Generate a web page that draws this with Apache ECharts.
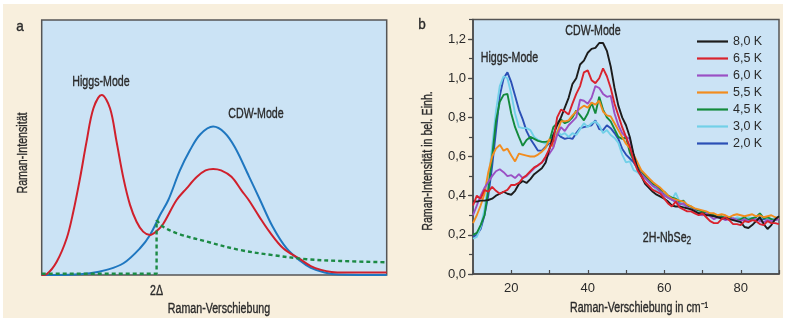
<!DOCTYPE html>
<html><head><meta charset="utf-8">
<script src="https://cdn.jsdelivr.net/npm/echarts@6/dist/echarts.min.js"></script>
<style>html,body{margin:0;padding:0;background:#fff}#c{width:785px;height:321px}</style>
</head><body><div id="c"></div>
<script>
const FONT = "'Liberation Sans','Arimo',sans-serif";

// ---- Panel a (schematic curves, x 0..100, y 0..1) ----
const aRed = [[0,0],[1.5,0.004],[4.35,0.052],[7.25,0.144],[9.16,0.248],[11.1,0.379],[13.0,0.523],[15.0,0.654],[17.4,0.706],[19.8,0.654],[21.7,0.523],[23.7,0.379],[25.6,0.275],[27.5,0.209],[29.4,0.170],[31.4,0.157],[33.3,0.172],[35.2,0.20],[39.1,0.294],[42,0.34],[45,0.385],[47.5,0.41],[49.7,0.416],[52,0.41],[55,0.385],[58,0.33],[60,0.294],[63,0.23],[66,0.17],[70,0.105],[74.9,0.062],[78,0.035],[81,0.02],[84,0.012],[88,0.01],[100,0.01]];
const aBlue = [[0,0],[8,0.001],[14,0.007],[18.8,0.02],[23.7,0.046],[28.5,0.105],[31.4,0.157],[34.3,0.235],[36.7,0.294],[40,0.408],[43,0.49],[46,0.552],[49.7,0.582],[53,0.558],[56,0.501],[60,0.389],[63.3,0.294],[67,0.188],[71,0.104],[75,0.055],[78,0.028],[82,0.01],[86,0.002],[100,0]];
const aGreenStep = [[0,0.005],[33.3,0.005],[33.3,0.216]];
const aGreenDecay = [[33.3,0.216],[35.2,0.189],[40,0.16],[47.8,0.131],[57.5,0.098],[67,0.078],[76.8,0.062],[86.5,0.055],[100,0.05]];
const gapX = 33.3;

// ---- Panel b (Raman spectra) ----
const shifts = [10,11,12,13,14,15,16,17,18,19,20,21,22,23,24,25,26,27,28,29,30,31,32,33,34,35,36,37,38,39,40,41,42,43,44,45,46,47,48,49,50,51,52,53,54,55,56,57,58,59,60,61,62,63,64,65,66,67,68,69,70,71,72,73,74,75,76,77,78,79,80,81,82,83,84,85,86,87,88,89,90];
const s80 = [0.37,0.37,0.375,0.375,0.378,0.385,0.40,0.41,0.42,0.41,0.405,0.425,0.46,0.475,0.465,0.485,0.51,0.525,0.54,0.57,0.64,0.71,
 0.76,0.80,0.85,0.90,0.97,1.0,1.07,1.09,1.13,1.15,1.155,1.18,1.18,1.14,1.06,0.95,0.86,0.80,0.76,0.70,0.61,0.54,0.50,0.46,0.44,0.42,0.405,
 0.395,0.385,0.37,0.35,0.345,0.345,0.34,0.335,0.33,0.32,0.31,0.31,0.30,0.30,0.295,0.29,0.285,0.285,0.28,0.275,0.27,0.265,0.24,0.235,0.25,0.27,0.29,0.255,0.23,0.25,0.28,0.295];
const s65 = [0.35,0.40,0.385,0.43,0.42,0.445,0.425,0.41,0.42,0.43,0.455,0.455,0.465,0.49,0.505,0.525,0.545,0.555,0.57,0.60,0.64,0.68,
 0.80,0.84,0.83,0.815,0.87,0.92,0.96,1.03,1.04,0.99,0.975,1.0,1.05,1.01,0.95,0.87,0.81,0.75,0.70,0.65,0.58,0.53,0.50,0.47,0.45,0.43,0.42,
 0.41,0.385,0.36,0.345,0.37,0.34,0.33,0.32,0.32,0.31,0.30,0.31,0.29,0.27,0.26,0.26,0.28,0.29,0.275,0.255,0.255,0.25,0.27,0.265,0.275,0.27,0.255,0.25,0.27,0.26,0.26,0.255];
const s60 = [0.30,0.35,0.40,0.44,0.47,0.50,0.525,0.535,0.52,0.50,0.505,0.49,0.51,0.49,0.50,0.52,0.54,0.555,0.57,0.59,0.615,0.645,
 0.71,0.75,0.73,0.76,0.78,0.80,0.89,0.885,0.87,0.90,0.96,0.95,0.92,0.905,0.91,0.82,0.76,0.72,0.70,0.69,0.60,0.54,0.51,0.49,0.47,0.45,0.44,
 0.42,0.40,0.39,0.38,0.37,0.355,0.36,0.34,0.33,0.325,0.305,0.30,0.31,0.295,0.28,0.29,0.285,0.275,0.28,0.285,0.275,0.27,0.28,0.27,0.275,0.28,0.27,0.265,0.275,0.27,0.275,0.28];
const s55 = [0.26,0.30,0.35,0.41,0.52,0.60,0.64,0.66,0.63,0.64,0.605,0.575,0.615,0.61,0.605,0.60,0.60,0.61,0.625,0.645,0.69,0.65,
 0.72,0.78,0.78,0.785,0.81,0.83,0.845,0.86,0.85,0.875,0.865,0.885,0.83,0.81,0.805,0.77,0.735,0.70,0.665,0.645,0.61,0.57,0.53,0.51,0.49,0.47,0.455,
 0.44,0.42,0.40,0.385,0.38,0.375,0.37,0.355,0.345,0.335,0.33,0.325,0.32,0.31,0.31,0.30,0.305,0.30,0.29,0.30,0.305,0.30,0.295,0.30,0.305,0.295,0.30,0.29,0.295,0.30,0.29,0.285];
const s45 = [0.20,0.21,0.25,0.30,0.43,0.60,0.78,0.88,0.915,0.92,0.82,0.75,0.70,0.655,0.685,0.70,0.69,0.68,0.675,0.675,0.68,0.75,
 0.77,0.79,0.77,0.78,0.80,0.835,0.81,0.785,0.82,0.875,0.82,0.905,0.84,0.80,0.78,0.74,0.70,0.69,0.70,0.62,0.58,0.55,0.52,0.50,0.48,0.46,0.45,
 0.43,0.42,0.40,0.39,0.385,0.37,0.375,0.35,0.345,0.33,0.325,0.32,0.31,0.305,0.30,0.29,0.295,0.285,0.29,0.28,0.275,0.28,0.29,0.275,0.285,0.29,0.31,0.285,0.29,0.28,0.275,0.285];
const s30 = [0.18,0.19,0.24,0.33,0.47,0.65,0.83,0.96,1.01,1.0,0.92,0.82,0.75,0.745,0.745,0.735,0.70,0.685,0.675,0.665,0.675,0.70,
 0.73,0.71,0.72,0.70,0.72,0.71,0.74,0.77,0.75,0.77,0.78,0.76,0.72,0.735,0.71,0.695,0.67,0.61,0.57,0.575,0.53,0.52,0.50,0.49,0.47,0.45,0.43,
 0.41,0.40,0.39,0.38,0.415,0.37,0.355,0.345,0.335,0.325,0.32,0.315,0.31,0.305,0.30,0.295,0.29,0.29,0.285,0.28,0.29,0.285,0.28,0.29,0.285,0.28,0.285,0.29,0.285,0.28,0.285,0.28];
const s20 = [0.19,0.20,0.23,0.30,0.40,0.55,0.73,0.91,1.00,1.03,0.98,0.91,0.84,0.79,0.73,0.69,0.66,0.63,0.63,0.65,0.67,0.71,
 0.72,0.70,0.69,0.695,0.69,0.72,0.745,0.75,0.755,0.76,0.785,0.74,0.735,0.76,0.745,0.72,0.69,0.64,0.61,0.59,0.57,0.54,0.52,0.50,0.47,0.45,0.43,
 0.42,0.405,0.39,0.38,0.37,0.36,0.355,0.345,0.335,0.33,0.32,0.315,0.31,0.30,0.30,0.295,0.29,0.285,0.285,0.28,0.28,0.28,0.275,0.28,0.28,0.275,0.28,0.28,0.285,0.28,0.28,0.285];
const seriesNames = ['8,0 K','6,5 K','6,0 K','5,5 K','4,5 K','3,0 K','2,0 K'];
const seriesValues = [s80, s65, s60, s55, s45, s30, s20];
const seriesColors = ['#1c1c1c','#d9232d','#9a50c4','#f28c1e','#138a3c','#72d0e8','#2b4fb5'];
const yTicks = [0,0.2,0.4,0.6,0.8,1.0,1.2];
const xTickLabels = [20,40,60,80];

const chart = echarts.init(document.getElementById('c'), null, {renderer:'canvas'});
const txt = '#2a2a2a';
const AXC = '#4a4a4a';
const bSeries = [];
const order = [6,5,4,3,2,0,1];
order.forEach(i => {
  bSeries.push({
    name: seriesNames[i], type:'line', xAxisIndex:1, yAxisIndex:1,
    data: shifts.map((x,k)=>[x, seriesValues[i][k]]),
    symbol:'none', showSymbol:false, smooth:false,
    lineStyle:{color:seriesColors[i], width:1.9}, itemStyle:{color:seriesColors[i]},
    z: 3
  });
});

const SX = 0.76;
function T(text, x, y, size, extra){
  return Object.assign({type:'text', x:x, y:y, z:100, scaleX:SX, style:{text:text, font: size+'px '+FONT, fill:txt, stroke:txt, lineWidth:0.35, textAlign:'center', textVerticalAlign:'middle'}}, extra||{});
}

const option = {
  animation:false,
  backgroundColor:'#ffffff',
  grid:[
    {left:41.7, top:20, width:345, height:255, show:true, backgroundColor:'#cbe3f5', borderColor:'#555', borderWidth:1.5},
    {left:473, top:19.5, width:306, height:254.5, show:true, backgroundColor:'#cbe3f5', borderColor:'#555', borderWidth:1.5}
  ],
  xAxis:[
    {gridIndex:0, type:'value', min:0, max:100, show:false},
    {gridIndex:1, type:'value', min:10, max:90, interval:10,
      axisLine:{show:true, onZero:false, lineStyle:{color:AXC, width:1.5}},
      axisTick:{show:true, inside:true, length:4, lineStyle:{color:AXC, width:1.2}},
      axisLabel:{color:txt, fontSize:13, fontFamily:FONT, margin:8,
        formatter: v => xTickLabels.indexOf(v) >= 0 ? String(v) : ''},
      splitLine:{show:false}}
  ],
  yAxis:[
    {gridIndex:0, type:'value', min:0, max:1, show:false},
    {gridIndex:1, type:'value', min:0, max:1.3, interval:0.2, position:'left',
      axisLine:{show:true, onZero:false, lineStyle:{color:AXC, width:1.5}},
      axisTick:{show:true, inside:false, length:5, lineStyle:{color:AXC, width:1.2}},
      axisLabel:{color:txt, fontSize:13, fontFamily:FONT, margin:7, showMaxLabel:false,
        formatter: v => { const t = yTicks.find(y => Math.abs(y - v) < 1e-6); return t === undefined ? '' : t.toFixed(1).replace('.', ','); }},
      splitLine:{show:false}},
    {gridIndex:1, type:'value', min:0, max:1.3, interval:0.1, position:'left',
      axisLine:{show:false}, axisLabel:{show:false}, splitLine:{show:false},
      axisTick:{show:true, inside:false, length:4, lineStyle:{color:AXC, width:1.2}}}
  ],
  legend:{
    data: seriesNames, orient:'vertical', left:697, top:34.5, padding:0,
    itemWidth:31, itemHeight:2.2, itemGap:3, icon:'rect',
    textStyle:{fontSize:12.5, lineHeight:14, color:txt, fontFamily:FONT}
  },
  series:[
    {type:'line', xAxisIndex:0, yAxisIndex:0, data:aBlue, symbol:'none', smooth:0.35, lineStyle:{color:'#1f77c0', width:2}, z:3},
    {type:'line', xAxisIndex:0, yAxisIndex:0, data:aRed, symbol:'none', smooth:0.35, lineStyle:{color:'#d0202c', width:2}, z:4},
    {type:'line', xAxisIndex:0, yAxisIndex:0, data:aGreenStep, symbol:'none', smooth:false, lineStyle:{color:'#1c8a44', width:2.4, type:[4,3]}, z:5},
    {type:'line', xAxisIndex:0, yAxisIndex:0, data:aGreenDecay, symbol:'none', smooth:0.35, lineStyle:{color:'#1c8a44', width:2.4, type:[4,3]}, z:5}
  ].concat(bSeries)
};
chart.setOption(option);

const gapPx = chart.convertToPixel({xAxisIndex:0, yAxisIndex:0}, [gapX, 0]);
chart.setOption({
  graphic:[
    {type:'rect', z:-10, silent:true, shape:{x:3, y:4, width:780, height:314}, style:{fill:'#f8efdd'}},
    T('a', 20, 27, 15, {scaleX:0.9}),
    T('b', 422, 25, 15, {scaleX:0.9}),
    T('Higgs-Mode', 101, 82, 14),
    T('CDW-Mode', 256, 114, 14),
    T('2\u0394', gapPx[0], 291, 14),
    T('Raman-Verschiebung', 219, 309, 14),
    T('Raman-Intensit\u00e4t', 23, 153, 14, {rotation: Math.PI/2}),
    T('CDW-Mode', 593, 31, 14),
    T('Higgs-Mode', 509.5, 58, 14),
    {type:'text', x:667, y:238, z:100, scaleX:SX, style:{text:'2H-NbSe{s|2}', font:'14px '+FONT, fill:txt, stroke:txt, lineWidth:0.35, textAlign:'center', textVerticalAlign:'middle',
       rich:{s:{font:'11px '+FONT, fill:txt, stroke:txt, lineWidth:0.3, padding:[6,0,0,0]}}}},
    T('Raman-Intensit\u00e4t in bel. Einh.', 428, 161, 14, {rotation: Math.PI/2}),
    T('Raman-Verschiebung in cm\u207B\u00B9', 639, 308, 14)
  ]
});
</script></body></html>
